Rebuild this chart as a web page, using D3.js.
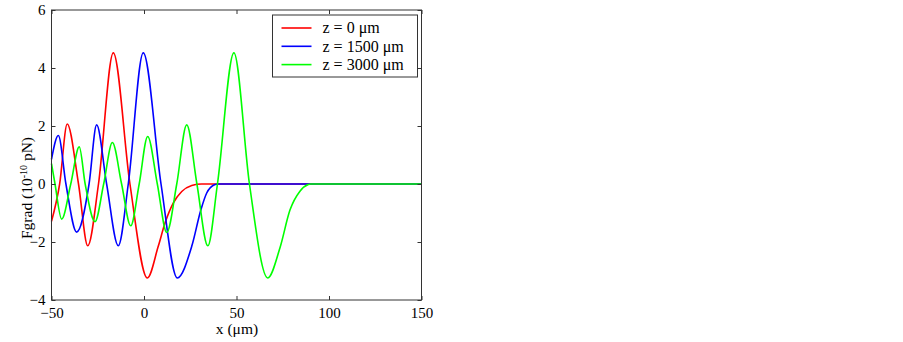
<!DOCTYPE html>
<html>
<head>
<meta charset="utf-8">
<script src="https://cdn.jsdelivr.net/npm/d3@7"></script>
<style>
  body { margin: 0; background: #fff; }
  text { font-family: "Liberation Serif", "Times New Roman", serif; }
</style>
</head>
<body>
<div id="chart"></div>
<script>
// Data (x in um, Fgrad in 1e-10 pN)
const redX   = [-50, -45.6, -41.5, -35.4, -30.4, -24.6, -16.6, -7.6, 1.8, 7.7, 11.4, 15.8, 20.4, 25.8, 31.2, 150];
const redY   = [-1.29, 0, 2.07, 0, -2.13, 0, 4.52, 0, -3.24, -2.15, -1.34, -0.66, -0.26, -0.05, 0, 0];

const blueX  = [-50, -46.3, -42.2, -36.4, -29.7, -25.6, -20.2, -13.9, -8.5, -0.4, 9.2, 18, 25.8, 30.8, 33.9, 38.4, 40, 150];
const blueY  = [0.85, 1.67, 0, -1.66, 0, 2.04, 0, -2.13, 0, 4.52, 0, -3.24, -2.15, -0.88, -0.31, -0.02, 0, 0];

const greenX = [-50, -48.1, -44.5, -39.6, -35, -31.8, -26.5, -21.8, -17.1, -12.1, -7.2, -2.6, 2.0, 7.2, 12.3, 17.7, 23.1, 28.6, 34.5, 39.7, 48.6, 57.0, 66.9, 73.5, 78.9, 84.3, 88.8, 90, 150];
const greenY = [0.7, 0, -1.21, 0, 1.28, 0, -1.3, 0, 1.43, 0, -1.44, 0, 1.64, 0, -1.67, 0, 2.04, 0, -2.13, 0, 4.52, 0, -3.24, -2.2, -0.9, -0.25, -0.02, 0, 0];

const seriesNames  = ["z = 0 \u03bcm", "z = 1500 \u03bcm", "z = 3000 \u03bcm"];
const seriesColors = ["#ff0000", "#0000ff", "#00ff00"];
const xTicks = [-50, 0, 50, 100, 150];
const yTicks = [-4, -2, 0, 2, 4, 6];

const series = [
  {name: seriesNames[0], color: seriesColors[0], pts: redX.map((x, i) => [x, redY[i]])},
  {name: seriesNames[1], color: seriesColors[1], pts: blueX.map((x, i) => [x, blueY[i]])},
  {name: seriesNames[2], color: seriesColors[2], pts: greenX.map((x, i) => [x, greenY[i]])}
];

var W = 903, H = 342;
var margin = {top: 10, left: 51.5, right: 903 - 421.5, bottom: 342 - 300};
var width = W - margin.left - margin.right;
var height = H - margin.top - margin.bottom;

var svg = d3.select("#chart").append("svg")
  .attr("width", W).attr("height", H);

var g = svg.append("g")
  .attr("transform", "translate(" + margin.left + "," + margin.top + ")");

var xscale = d3.scaleLinear().domain([-50, 150]).range([0, width]);
var yscale = d3.scaleLinear().domain([-4, 6]).range([height, 0]);

// curves
var line = d3.line()
  .x(d => xscale(d[0]))
  .y(d => yscale(d[1]))
  .curve(d3.curveMonotoneX);

g.selectAll("path.series")
  .data(series)
  .join("path").classed("series", true)
  .attr("d", d => line(d.pts))
  .attr("fill", "none")
  .attr("stroke", d => d.color)
  .attr("stroke-width", 1.6);

// axes (ticks pointing inward, box all round)
var axisColor = "#333";
function styleAxis(sel, hideText) {
  sel.select(".domain").remove();
  sel.selectAll(".tick line").attr("stroke", axisColor);
  sel.selectAll("text")
    .style("font-size", "15px")
    .attr("fill", "#000");
  if (hideText) sel.selectAll("text").remove();
}

g.append("g").attr("transform", "translate(0," + height + ")")
  .call(d3.axisBottom(xscale).tickValues(xTicks).tickSizeInner(-4).tickSizeOuter(0).tickPadding(7))
  .call(s => styleAxis(s, false));
g.append("g")
  .call(d3.axisTop(xscale).tickValues(xTicks).tickSizeInner(-4).tickSizeOuter(0))
  .call(s => styleAxis(s, true));
g.append("g")
  .call(d3.axisLeft(yscale).tickValues(yTicks).tickSizeInner(-4).tickSizeOuter(0).tickPadding(6))
  .call(s => styleAxis(s, false));
g.append("g").attr("transform", "translate(" + width + ",0)")
  .call(d3.axisRight(yscale).tickValues(yTicks).tickSizeInner(-4).tickSizeOuter(0))
  .call(s => styleAxis(s, true));

g.append("rect")
  .attr("x", 0).attr("y", 0)
  .attr("width", width).attr("height", height)
  .attr("fill", "none")
  .attr("stroke", axisColor)
  .attr("stroke-width", 1);

// axis labels
svg.append("text")
  .attr("x", 237).attr("y", 334)
  .attr("text-anchor", "middle")
  .style("font-size", "15.5px")
  .text("x (\u03bcm)");

var ylab = svg.append("text")
  .attr("transform", "translate(32,188) rotate(-90)")
  .attr("text-anchor", "middle")
  .style("font-size", "15.5px");
ylab.append("tspan").text("Fgrad (10");
ylab.append("tspan").attr("dy", -5).style("font-size", "10px").text("-10");
ylab.append("tspan").attr("dy", 5).text(" pN)");

// legend
var legend = svg.append("g");
legend.append("rect")
  .attr("x", 272.5).attr("y", 15)
  .attr("width", 145).attr("height", 62)
  .attr("fill", "#fff")
  .attr("stroke", axisColor);
var rows = legend.selectAll("g.row")
  .data(series)
  .join("g").classed("row", true)
  .attr("transform", (d, i) => "translate(0," + (28 + i * 18.3) + ")");
rows.append("line")
  .attr("x1", 281.5).attr("x2", 311.5)
  .attr("stroke", d => d.color).attr("stroke-width", 1.6);
rows.append("text")
  .attr("x", 322.5).attr("dy", "0.33em")
  .style("font-size", "16px")
  .text(d => d.name);
</script>
</body>
</html>
